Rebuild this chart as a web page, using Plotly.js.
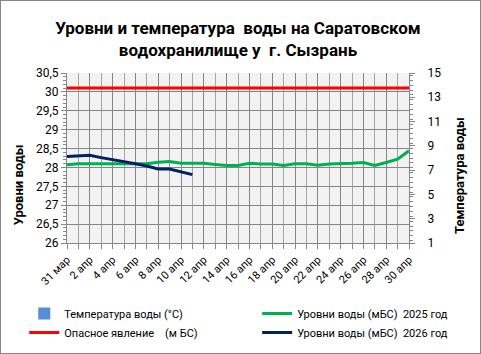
<!DOCTYPE html>
<html>
<head>
<meta charset="utf-8">
<script src="https://cdn.plot.ly/plotly-3.0.1.min.js"></script>
<style>
  html, body { margin: 0; padding: 0; background: #fff; }
  #wrap { position: relative; width: 481px; height: 354px; }
  #chart { width: 481px; height: 354px; }
  #frame { position: absolute; left: 0; top: 0; width: 481px; height: 354px; box-sizing: border-box; border: 1px solid #878787; pointer-events: none; }
</style>
</head>
<body>
<div id="wrap"><div id="chart"></div><div id="frame"></div></div>
<script>
// Dates (31 мар .. 30 апр)
const dates = ["31 мар","1 апр","2 апр","3 апр","4 апр","5 апр","6 апр","7 апр","8 апр","9 апр","10 апр",
  "11 апр","12 апр","13 апр","14 апр","15 апр","16 апр","17 апр","18 апр","19 апр","20 апр",
  "21 апр","22 апр","23 апр","24 апр","25 апр","26 апр","27 апр","28 апр","29 апр","30 апр"];

// Water levels 2025 (м БС)
const level2025 = [28.07,28.10,28.10,28.10,28.08,28.09,28.10,28.10,28.14,28.16,28.11,
  28.11,28.11,28.08,28.05,28.05,28.11,28.09,28.09,28.05,28.10,
  28.10,28.06,28.09,28.09,28.11,28.13,28.05,28.13,28.22,28.44];

// Water levels 2026 (м БС)
const level2026 = [28.29,28.30,28.32,28.26,28.20,28.15,28.10,28.04,27.96,27.96,27.88,27.81];

// Dangerous level (м БС)
const dangerLevel = [30.1,30.1,30.1,30.1,30.1,30.1,30.1,30.1,30.1,30.1,30.1,
  30.1,30.1,30.1,30.1,30.1,30.1,30.1,30.1,30.1,30.1,
  30.1,30.1,30.1,30.1,30.1,30.1,30.1,30.1,30.1,30.1];

// Water temperature (°C) – no data yet
const waterTemp = [null,null,null,null,null,null,null,null,null,null,null,
  null,null,null,null,null,null,null,null,null,null,
  null,null,null,null,null,null,null,null,null,null];

const idx = dates.map((d, i) => i);
const tickIdx = idx.filter(i => i % 2 === 0);
const tickTxt = tickIdx.map(i => dates[i]);

const FONT = "Roboto, 'Open Sans', sans-serif";

const traces = [
  { type: 'bar', name: 'Температура воды (°C)', x: idx, y: waterTemp, yaxis: 'y2',
    marker: { color: '#558ed5' }, hoverinfo: 'skip', legend: 'legend', legendgroup: 'g1' },
  { type: 'scatter', mode: 'lines', name: 'Уровни воды (мБС)  2025 год',
    x: idx.slice(0, level2025.length), y: level2025, line: { color: '#00b050', width: 3 },
    legend: 'legend2', legendgroup: 'g2' },
  { type: 'scatter', mode: 'lines', name: 'Опасное явление    (м БС)',
    x: idx.slice(0, dangerLevel.length), y: dangerLevel, line: { color: '#ff0000', width: 3 },
    legend: 'legend', legendgroup: 'g3' },
  { type: 'scatter', mode: 'lines', name: 'Уровни воды (мБС)  2026 год',
    x: idx.slice(0, level2026.length), y: level2026, line: { color: '#002060', width: 3 },
    legend: 'legend2', legendgroup: 'g4' }
];

const legendBase = {
  orientation: 'v', xanchor: 'left', y: -0.33, yanchor: 'top',
  itemwidth: 30, tracegroupgap: 5,
  font: { family: FONT, size: 11, color: '#000' },
  bgcolor: 'rgba(0,0,0,0)', traceorder: 'normal'
};

const layout = {
  width: 481, height: 354,
  margin: { l: 67, r: 72, t: 73, b: 111, autoexpand: false },
  paper_bgcolor: '#ffffff',
  plot_bgcolor: '#f2f2f2',
  separators: ', ',
  font: { family: FONT, size: 11, color: '#000' },
  showlegend: true,
  title: {
    text: 'Уровни и температура  воды на Саратовском<br>водохранилище у  г. Сызрань',
    font: { family: FONT, size: 17, weight: 'bold', color: '#000' },
    x: 0.5, xanchor: 'center', xref: 'paper',
    y: 0.905, yanchor: 'middle', yref: 'container'
  },
  xaxis: {
    range: [0, 30], tickmode: 'array', tickvals: tickIdx, ticktext: tickTxt,
    tickangle: -45, tickfont: { size: 11 },
    showline: true, linecolor: '#868686', linewidth: 1, mirror: false,
    ticks: 'outside', ticklen: 5, tickcolor: '#868686',
    showgrid: true, gridcolor: '#868686', gridwidth: 1, zeroline: false,
    minor: { tick0: 0, dtick: 1, showgrid: true, gridcolor: '#a6a6a6', ticks: 'outside', ticklen: 5, tickcolor: '#868686' }
  },
  yaxis: {
    range: [26, 30.5], dtick: 0.5, tick0: 26,
    showline: true, linecolor: '#868686', linewidth: 1,
    ticks: 'outside', ticklen: 5, tickcolor: '#868686', tickfont: { size: 12 },
    showgrid: true, gridcolor: '#868686', gridwidth: 1, zeroline: false,
    minor: { dtick: 0.1, ticks: 'outside', ticklen: 3, tickcolor: '#868686', showgrid: false }
  },
  yaxis2: {
    overlaying: 'y', side: 'right', range: [1, 15], dtick: 2, tick0: 1,
    showline: true, linecolor: '#868686', linewidth: 1,
    ticks: 'outside', ticklen: 5, tickcolor: '#868686', tickfont: { size: 12 },
    ticklabelstandoff: 10,
    showgrid: false, zeroline: false,
    minor: { dtick: 0.4, ticks: 'outside', ticklen: 3, tickcolor: '#868686', showgrid: false }
  },
  legend: Object.assign({}, legendBase, { x: -0.125 }),
  legend2: Object.assign({}, legendBase, { x: 0.556 }),
  annotations: [
    { text: 'Уровни воды', textangle: -90, xref: 'paper', yref: 'paper',
      x: 0, xshift: -49, y: 0.34, xanchor: 'center', yanchor: 'middle', showarrow: false,
      font: { family: FONT, size: 13, weight: 'bold', color: '#000' } },
    { text: 'Температура воды', textangle: -90, xref: 'paper', yref: 'paper',
      x: 1, xshift: 50, y: 0.394, xanchor: 'center', yanchor: 'middle', showarrow: false,
      font: { family: FONT, size: 13, weight: 'bold', color: '#000' } }
  ]
};

Plotly.newPlot('chart', traces, layout, { displayModeBar: false, staticPlot: true });
</script>
</body>
</html>
